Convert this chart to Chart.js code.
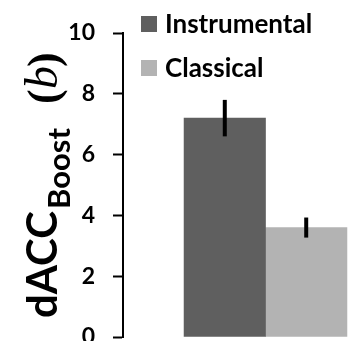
<!DOCTYPE html>
<html>
<head>
<meta charset="utf-8">
<script src="https://cdn.jsdelivr.net/npm/chart.js@4.4.1/dist/chart.umd.min.js"></script>
<style>
  html, body { margin: 0; padding: 0; background: #fff; }
  #wrap { width: 351px; height: 341px; }
</style>
</head>
<body>
<div id="wrap"><canvas id="chart" width="351" height="341"></canvas></div>
<script>
const categories = ["Instrumental", "Classical"];
const positions = [1, 2];
const values = [7.2, 3.6];
const errors = [0.6, 0.33];
const colors = ["#5f5f5f", "#b3b3b3"];
const yTicks = [0, 2, 4, 6, 8, 10];

const FONT = "Lato, 'Open Sans', sans-serif";

// error bars, no caps
const errorBars = {
  id: "errorBars",
  afterDatasetsDraw(chart) {
    const ctx = chart.ctx;
    const x = chart.scales.x, y = chart.scales.y;
    ctx.save();
    ctx.strokeStyle = "#000";
    ctx.lineWidth = 4;
    values.forEach((v, i) => {
      const px = x.getPixelForValue(positions[i]);
      ctx.beginPath();
      ctx.moveTo(px, y.getPixelForValue(v + errors[i]));
      ctx.lineTo(px, y.getPixelForValue(v - errors[i]));
      ctx.stroke();
    });
    ctx.restore();
  }
};

// legend stacked in the top right corner
const cornerLegend = {
  id: "cornerLegend",
  afterDraw(chart) {
    const ctx = chart.ctx;
    ctx.save();
    ctx.font = "bold 26px " + FONT;
    ctx.textBaseline = "alphabetic";
    chart.data.datasets.forEach((ds, i) => {
      const top = 16 + i * 44;
      ctx.fillStyle = ds.backgroundColor;
      ctx.fillRect(141, top, 16, 16);
      ctx.fillStyle = "#000";
      ctx.fillText(ds.label, 165, top + 17);
    });
    ctx.restore();
  }
};

// y title: dACC with subscript Boost and italic b
const yTitle = {
  id: "yTitle",
  afterDraw(chart) {
    const ctx = chart.ctx;
    ctx.save();
    ctx.translate(57, 318);
    ctx.rotate(-Math.PI / 2);
    ctx.fillStyle = "#000";
    ctx.textBaseline = "alphabetic";
    ctx.font = "bold 42px " + FONT;
    ctx.fillText("dACC", 0, 0);
    let pos = ctx.measureText("dACC").width + 2;
    ctx.font = "bold 31px " + FONT;
    ctx.fillText("Boost", pos, 13);
    ctx.font = "bold 44px 'Liberation Serif', serif";
    ctx.fillText("(", 214, 1);
    ctx.font = "italic 46px 'Liberation Serif', serif";
    ctx.fillText("b", 229, 0);
    ctx.font = "bold 44px 'Liberation Serif', serif";
    ctx.fillText(")", 251, 1);
    ctx.restore();
  }
};

new Chart(document.getElementById("chart"), {
  type: "bar",
  data: {
    datasets: categories.map((c, i) => ({
      label: c,
      data: [{ x: positions[i], y: values[i] }],
      backgroundColor: colors[i],
      grouped: false,
      categoryPercentage: 1,
      barPercentage: 1
    }))
  },
  options: {
    responsive: false,
    animation: false,
    layout: { padding: { left: 68, top: 33, right: 0, bottom: 4 } },
    plugins: { legend: { display: false }, tooltip: { enabled: false } },
    scales: {
      x: {
        type: "linear",
        display: false,
        offset: false,
        min: -0.25,
        max: 2.55,
        ticks: { count: 2 }
      },
      y: {
        min: 0,
        max: 10,
        afterBuildTicks: s => { s.ticks = yTicks.map(v => ({ value: v })); },
        afterFit: s => { s.width = 55; s.paddingTop = 0; s.paddingBottom = 0; },
        ticks: {
          padding: 18,
          color: "#000",
          font: { family: FONT, size: 23, weight: "bold" }
        },
        grid: {
          drawOnChartArea: false,
          tickLength: 10,
          tickWidth: 2,
          tickColor: "#000"
        },
        border: { display: true, color: "#000", width: 2 }
      }
    }
  },
  plugins: [errorBars, cornerLegend, yTitle]
});
</script>
</body>
</html>
